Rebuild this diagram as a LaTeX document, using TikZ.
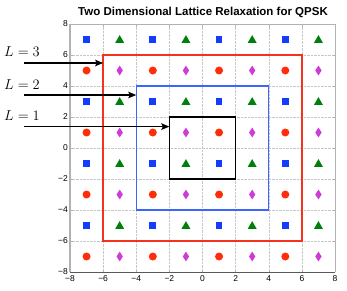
\documentclass[tikz,border=0pt]{standalone}
\usepackage{fontspec}
\setmainfont{Liberation Sans}
\usetikzlibrary{shapes.geometric,arrows.meta}
\definecolor{mblue}{RGB}{20,60,255}
\definecolor{mred}{RGB}{255,45,10}
\definecolor{mgreen}{RGB}{0,128,10}
\definecolor{mmag}{RGB}{205,60,215}
\definecolor{boxred}{RGB}{245,50,30}
\definecolor{boxblue}{RGB}{60,100,255}
\tikzset{
  sqm/.style={rectangle,fill=mblue,inner sep=0pt,minimum size=6.8pt},
  cim/.style={circle,fill=mred,inner sep=0pt,minimum size=8pt},
  trm/.style={regular polygon,regular polygon sides=3,fill=mgreen,inner sep=0pt,minimum size=10.4pt,yshift=-0.8pt},
  dim/.style={diamond,fill=mmag,inner sep=0pt,minimum width=6.5pt,minimum height=10pt},
  gridline/.style={draw=gray!45,densely dotted,line width=0.4pt},
  ticklab/.style={font=\fontsize{8.5}{9}\selectfont,inner sep=0pt},
  llab/.style={font=\fontsize{15}{18}\selectfont,inner sep=0pt,anchor=west},
  pointer/.style={draw=black,line width=1.5pt,-{Stealth[length=8pt,width=6.5pt,inset=1.5pt]}},
}
\begin{document}
\begin{tikzpicture}[x=1pt,y=1pt]
\useasboundingbox (0,0) rectangle (347,290);
\node[font=\bfseries\fontsize{11.5}{13}\selectfont,inner sep=0pt] (title) at (203,278) {Two Dimensional Lattice Relaxation for QPSK};
\begin{scope}[shift={(202.5,142)},x=16.5625pt,y=15.5pt]
  \foreach \v in {-6,-4,...,6} {
    \draw[gridline] (\v,-8) -- (\v,8);
    \draw[gridline] (-8,\v) -- (8,\v);
  }
  \foreach \v in {-8,-6,...,8} {
    \draw[gray!60,line width=0.4pt] (\v,-8) -- ++(0,2.5pt) (\v,8) -- ++(0,-2.5pt);
    \draw[gray!60,line width=0.4pt] (-8,\v) -- ++(2.5pt,0) (8,\v) -- ++(-2.5pt,0);
    \node[ticklab,anchor=north] (xt\v) at ([yshift=-3pt]\v,-8) {\ifnum\v<0 −\the\numexpr-\v\relax\else\v\fi};
    \node[ticklab,anchor=east] (yt\v) at ([xshift=-2pt]-8,\v) {\ifnum\v<0 −\the\numexpr-\v\relax\else\v\fi};
  }
  \draw[gray!60,line width=0.6pt] (-8,8) -- (8,8) -- (8,-8);
  \draw[gray!70!black,line width=0.8pt] (-8,-8) -- (8,-8);
  \draw[gray!60,line width=1.4pt] (-8,-8) -- (-8,8);
  % markers
  \foreach \y in {7,3,-1,-5} {
    \foreach \x in {-7,-3,1,5} { \node[sqm] (m\x\y) at (\x,\y) {}; }
    \foreach \x in {-5,-1,3,7} { \node[trm] (m\x\y) at (\x,\y) {}; }
  }
  \foreach \y in {5,1,-3,-7} {
    \foreach \x in {-7,-3,1,5} { \node[cim] (m\x\y) at (\x,\y) {}; }
    \foreach \x in {-5,-1,3,7} { \node[dim] (m\x\y) at (\x,\y) {}; }
  }
  % boxes
  \draw[boxred,line width=1.3pt] (-6,-6) rectangle (6,6);
  \draw[boxblue,line width=1.2pt] (-4,-4) rectangle (4,4);
  \draw[black,line width=1.2pt] (-2,-2) rectangle (2,2);
  \coordinate (e3) at (-6,5.5);
  \coordinate (e2) at (-4,3.42);
  \coordinate (e1) at (-2,1.38);
\end{scope}
\node[llab] (l3) at (4,238) {$L=3$};
\node[llab] (l2) at (4,205.5) {$L=2$};
\node[llab] (l1) at (4,174) {$L=1$};
\coordinate (s3) at (24,227);
\coordinate (s2) at (24,195);
\coordinate (s1) at (24,163.4);
\draw[pointer] (s3) -- (s3 -| e3);
\draw[pointer] (s2) -- (s2 -| e2);
\draw[pointer] (s1) -- (s1 -| e1);
\end{tikzpicture}
\end{document}
